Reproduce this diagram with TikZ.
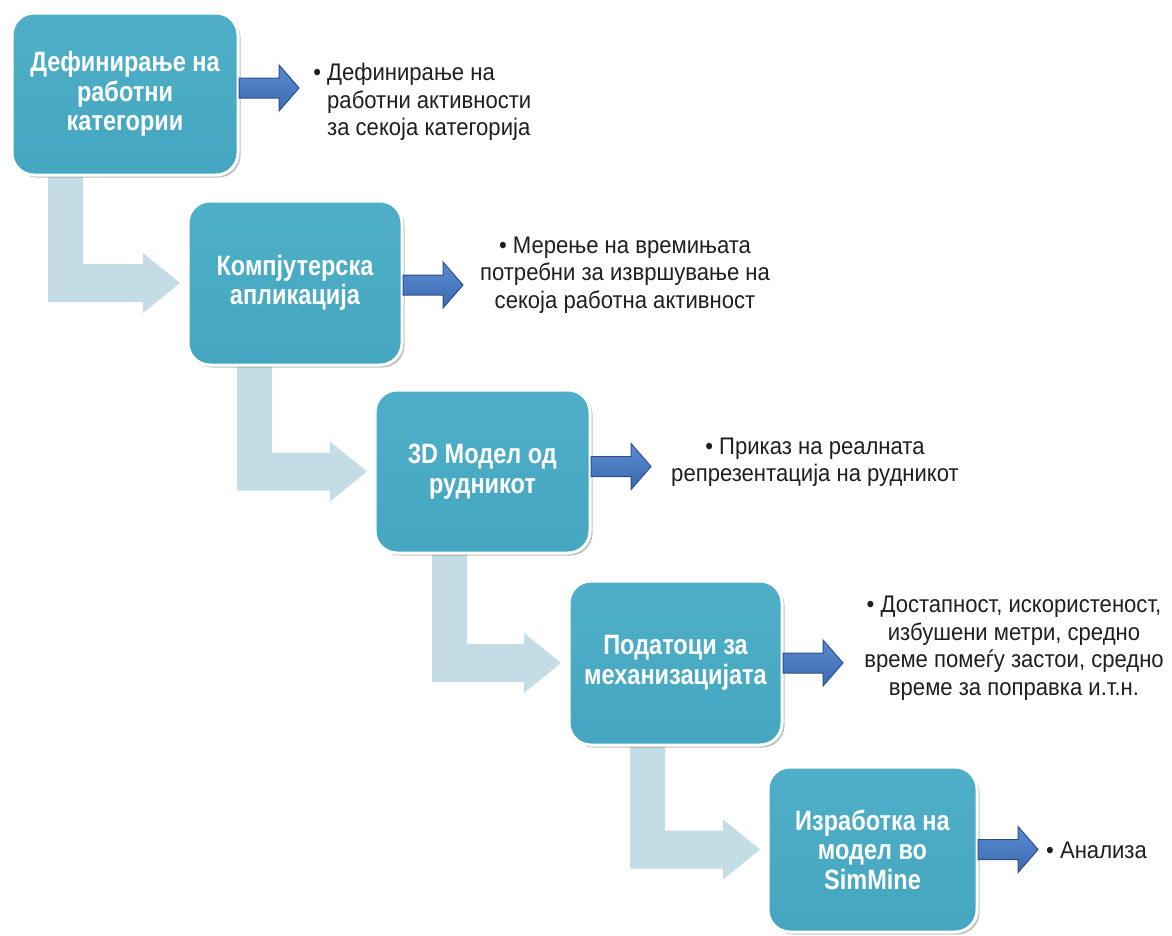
\documentclass[tikz,border=0pt]{standalone}
\usepackage{fontspec}
\setmainfont{Liberation Sans}
\newfontfamily\boxfont{Liberation Sans}[FakeStretch=0.84]
\newfontfamily\descfont{Liberation Sans}[FakeStretch=0.92]
\usetikzlibrary{shadows,calc}
\definecolor{boxtop}{HTML}{4FAFC8}
\definecolor{boxbot}{HTML}{44A6C0}
\definecolor{lightarr}{HTML}{C4DCE5}
\definecolor{blueA}{HTML}{5B8CD2}
\definecolor{blueB}{HTML}{3A69AE}
\definecolor{blueline}{HTML}{2E4F8C}
\pgfdeclarelayer{bg}
\pgfsetlayers{bg,main}
\tikzset{
  stepbox/.style={rounded corners=22pt, top color=boxtop, bottom color=boxbot,
    draw=white, line width=3pt, text=white, align=center, inner sep=0pt, outer sep=0pt,
    font=\boxfont\bfseries\fontsize{28}{29.5}\selectfont,
    drop shadow={shadow xshift=2.5pt, shadow yshift=-2.5pt, opacity=0.45, fill=black!55}},
  desc/.style={font=\descfont\fontsize{24}{27.5}\selectfont, inner sep=0pt, text=black!88},
  bluearrow/.style={top color=blueA, bottom color=blueB, draw=blueline, line width=1pt, line join=miter},
  lightarrow/.style={fill=lightarr}
}
\newcommand\bluearr[2]{%
  \begin{scope}[shift={([yshift=#2]#1.east)}]
    \draw[bluearrow] (1,-10) -- (41,-10) -- (41,-23) -- (61,0) -- (41,23) -- (41,10) -- (1,10) -- cycle;
  \end{scope}}
\newcommand\bentarr[4]{%
  \fill[lightarrow] (#1.south -| #3) -- (#1.south -| #4) -- ([yshift=19pt]#2.west -| #4)
    -- ([xshift=-45pt,yshift=19pt]#2.west) -- ([xshift=-45pt,yshift=30pt]#2.west)
    -- ([xshift=-8pt]#2.west) -- ([xshift=-45pt,yshift=-30pt]#2.west)
    -- ([xshift=-45pt,yshift=-19pt]#2.west) -- ([yshift=-19pt]#2.west -| #3) -- cycle;}
\begin{document}
\begin{tikzpicture}[x=1pt,y=-1pt]
\useasboundingbox (0,0) rectangle (1172,935);
% boxes
\node[stepbox, minimum width=226pt, minimum height=162pt] (b1) at (125,94) {Дефинирање на\\работни\\категории};
\node[stepbox, minimum width=214pt, minimum height=164pt] (b2) at (295,283) {Компјутерска\\апликација};
\node[stepbox, minimum width=215pt, minimum height=163pt] (b3) at (482.5,471.5) {3D Модел од\\рудникот};
\node[stepbox, minimum width=213pt, minimum height=164pt] (b4) at (675.5,663) {Податоци за\\механизацијата};
\node[stepbox, minimum width=209pt, minimum height=165pt] (b5) at (872.5,849.5) {Изработка на\\модел во\\SimMine};
% descriptions
\node[desc, anchor=west, align=left] (t1) at (327,102) {\llap{•\ }Дефинирање на\\работни активности\\за секоја категорија};
\node[desc, align=center] (t2) at (625,275) {• Мерење на времињата\\потребни за извршување на\\секоја работна активност};
\node[desc, align=center] (t3) at (815,462) {• Приказ на реалната\\репрезентација на рудникот};
\node[desc, align=center] (t4) at (1014,648) {• Достапност, искористеност,\\избушени метри, средно\\време помеѓу застои, средно\\време за поправка и.т.н.};
\node[desc, anchor=west] (t5) at (1046,850) {• Анализа};
% blue arrows
\bluearr{b1}{6pt}
\bluearr{b2}{-2pt}
\bluearr{b3}{5pt}
\bluearr{b4}{0pt}
\bluearr{b5}{0pt}
% light bent arrows
\coordinate (a1l) at (48,0);  \coordinate (a1r) at (83,0);
\coordinate (a2l) at (237,0); \coordinate (a2r) at (272,0);
\coordinate (a3l) at (432,0); \coordinate (a3r) at (467,0);
\coordinate (a4l) at (630,0); \coordinate (a4r) at (665,0);
\begin{pgfonlayer}{bg}
\fill[white] (0,0) rectangle (1172,935);
\bentarr{b1}{b2}{a1l}{a1r}
\bentarr{b2}{b3}{a2l}{a2r}
\bentarr{b3}{b4}{a3l}{a3r}
\bentarr{b4}{b5}{a4l}{a4r}
\end{pgfonlayer}
\end{tikzpicture}
\end{document}
